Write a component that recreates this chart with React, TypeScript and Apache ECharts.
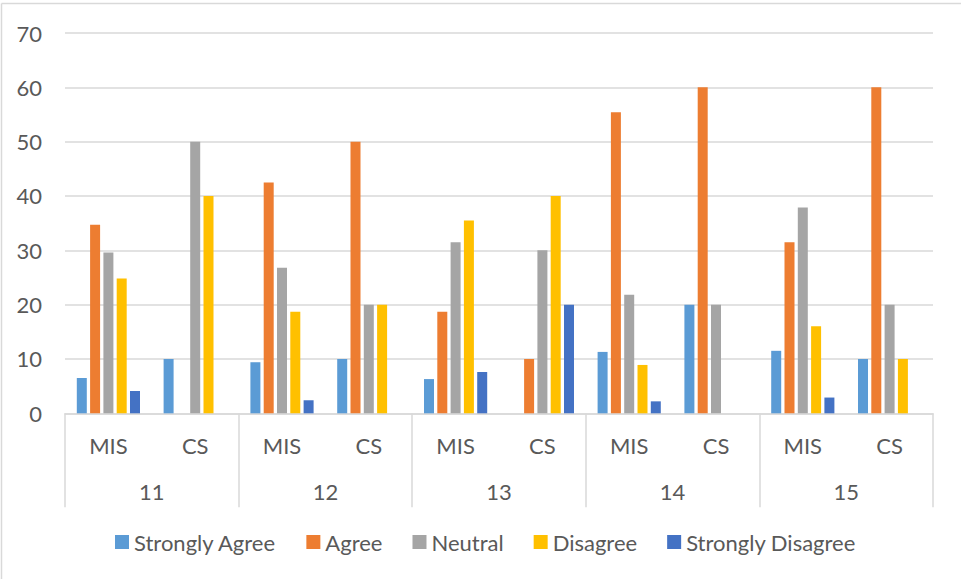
import React, { useEffect, useRef } from "react";
import * as echarts from "echarts";

const subCategories = ["MIS", "CS", "MIS", "CS", "MIS", "CS", "MIS", "CS", "MIS", "CS"];
const groups = ["11", "12", "13", "14", "15"];
const yTicks = { min: 0, max: 70, interval: 10 };

const stronglyAgree = [6.5, 10, 9.4, 10, 6.3, 0, 11.3, 20, 11.5, 10];
const agree = [34.7, 0, 42.5, 50, 18.7, 10, 55.4, 60, 31.5, 60];
const neutral = [29.6, 50, 26.8, 20, 31.5, 30, 21.8, 20, 37.9, 20];
const disagree = [24.8, 40, 18.7, 20, 35.5, 40, 8.9, 0, 16.0, 10];
const stronglyDisagree = [4.1, 0, 2.4, 0, 7.6, 20, 2.2, 0, 2.9, 0];

const seriesNames = ["Strongly Agree", "Agree", "Neutral", "Disagree", "Strongly Disagree"];
const seriesData = [stronglyAgree, agree, neutral, disagree, stronglyDisagree];
const colors = ["#5B9BD5", "#ED7D31", "#A5A5A5", "#FFC000", "#4472C4"];

const FONT = "Lato";
const FS = 22;
const TEXT = "#595959";
const LINE = "#D9D9D9";

export default function App() {
  const ref = useRef<HTMLDivElement>(null);
  useEffect(() => {
    document.body.style.margin = "0";
    const chart = echarts.init(ref.current!, undefined, { renderer: "svg" });
    chart.setOption({
      animation: false,
      backgroundColor: "#ffffff",
      textStyle: { fontFamily: FONT },
      color: colors,
      grid: { left: 65, right: 28, top: 33, bottom: 165.7, containLabel: false },
      legend: {
        data: seriesNames,
        left: 110,
        top: 526,
        itemWidth: 14,
        itemHeight: 14,
        itemGap: 30,
        icon: "rect",
        textStyle: { fontFamily: FONT, fontSize: FS, color: TEXT },
      },
      xAxis: [
        {
          type: "category",
          data: subCategories,
          gridIndex: 0,
          axisLine: { show: true, lineStyle: { color: LINE, width: 1.5 } },
          axisTick: { show: false },
          axisLabel: {
            color: TEXT,
            fontFamily: FONT,
            fontSize: FS,
            margin: 32,
            verticalAlign: "middle",
            interval: 0,
          },
        },
        {
          type: "category",
          data: groups,
          gridIndex: 0,
          position: "bottom",
          axisLine: { show: false },
          axisTick: { show: true, length: 94, lineStyle: { color: LINE, width: 1.5 } },
          axisLabel: {
            color: TEXT,
            fontFamily: FONT,
            fontSize: FS,
            margin: 78,
            verticalAlign: "middle",
            interval: 0,
          },
          splitLine: { show: false },
        },
      ],
      yAxis: {
        type: "value",
        min: yTicks.min,
        max: yTicks.max,
        interval: yTicks.interval,
        axisLine: { show: false },
        axisTick: { show: false },
        splitLine: { lineStyle: { color: LINE, width: 1.5 } },
        axisLabel: { color: TEXT, fontFamily: FONT, fontSize: FS, margin: 23 },
      },
      series: seriesNames.map((name, i) => ({
        name,
        type: "bar",
        xAxisIndex: 0,
        data: seriesData[i],
        barWidth: 10,
        barGap: "33%",
        itemStyle: { color: colors[i] },
      })),
      graphic: [
        {
          type: "line",
          shape: { x1: 1.5, y1: 3.5, x2: 1.5, y2: 579 },
          style: { stroke: LINE, lineWidth: 1.5 },
          silent: true,
        },
        {
          type: "line",
          shape: { x1: 1.5, y1: 3.5, x2: 961, y2: 3.5 },
          style: { stroke: LINE, lineWidth: 1.5 },
          silent: true,
        },
      ],
    });
    return () => chart.dispose();
  }, []);
  return (
    <div
      ref={ref}
      style={{ position: "absolute", left: 0, top: 0, width: 961, height: 579 }}
    />
  );
}
